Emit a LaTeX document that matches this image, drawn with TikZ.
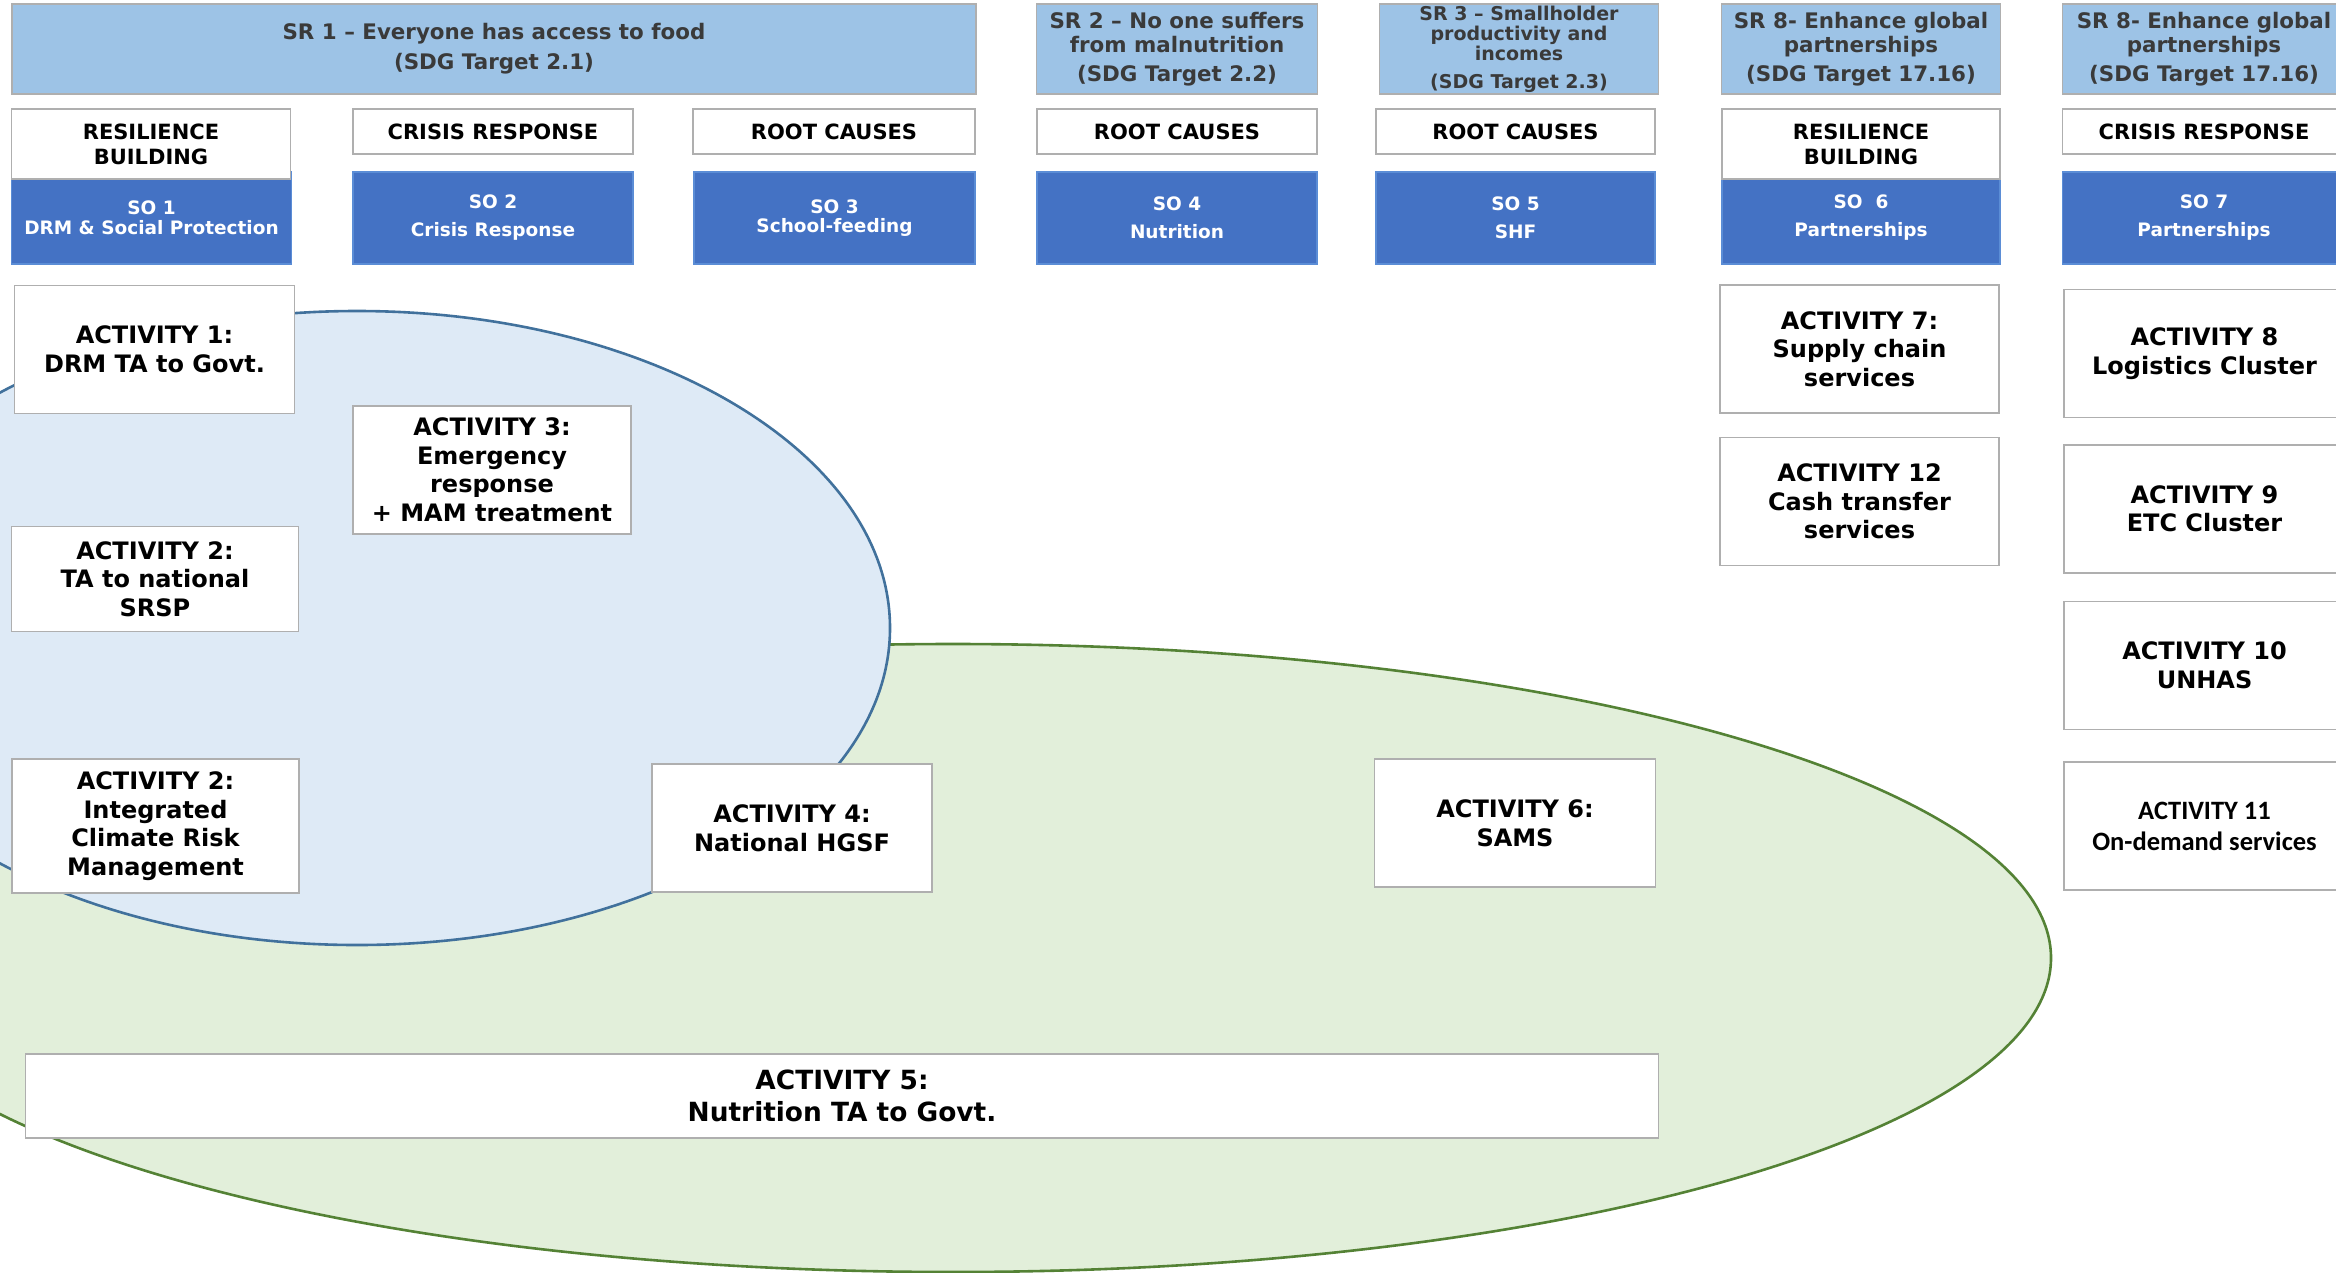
\documentclass[tikz,border=0pt]{standalone}
\usepackage{fontspec}
\setmainfont{DejaVu Sans}
\newfontfamily\carlito{Carlito}
\definecolor{srfill}{HTML}{9DC3E6}
\definecolor{srtext}{HTML}{3A3A3A}
\definecolor{sofill}{HTML}{4472C4}
\definecolor{soline}{HTML}{5B8DD6}
\definecolor{boxline}{HTML}{AFAFAF}
\definecolor{bluefill}{HTML}{DEEAF6}
\definecolor{blueline}{HTML}{41719C}
\definecolor{greenfill}{HTML}{E2EFDA}
\definecolor{greenline}{HTML}{548235}

\begin{document}
\begin{tikzpicture}
  [x=1pt,y=-1pt,
   every node/.style={draw=boxline,line width=1.6pt,inner sep=0pt,align=center,minimum width=280},
   srbox/.style={fill=srfill,text=srtext,minimum height=90,font=\bfseries\fontsize{21.4}{24}\selectfont},
   hdbox/.style={fill=white,minimum height=45,font=\bfseries\fontsize{21}{25}\selectfont},
   hdtall/.style={hdbox,minimum height=70},
   sobox/.style={fill=sofill,draw=soline,text=white,minimum height=92,font=\bfseries\fontsize{18.5}{19.5}\selectfont},
   actbox/.style={fill=white,minimum height=128,font=\bfseries\fontsize{24}{28.5}\selectfont}]
  \useasboundingbox (0,0) rectangle (2336,1272);
  \clip (0,0) rectangle (2336,1272);

  % the two big groups
  \draw[fill=greenfill,draw=greenline,line width=2.6pt] (953,958) ellipse [x radius=1098, y radius=314];
  \draw[fill=bluefill,draw=blueline,line width=2.6pt] (357,628) ellipse [x radius=533, y radius=317];

  % strategic results
  \node[srbox,minimum width=964] (sr1) at (494,49)  {SR 1 – Everyone has access to food\\[6pt](SDG Target 2.1)};
  \node[srbox,minimum width=281] (sr2) at (1177,49) {SR 2 – No one suffers\\from malnutrition\\[5.5pt](SDG Target 2.2)};
  \node[srbox,minimum width=279,font=\bfseries\fontsize{19}{20}\selectfont] (sr3) at (1519,49)
    {SR 3 – Smallholder\\productivity and\\incomes\\[8pt](SDG Target 2.3)};
  \node[srbox,minimum width=279] (sr8a) at (1861,49) {SR 8- Enhance global\\partnerships\\[5.5pt](SDG Target 17.16)};
  \node[srbox,minimum width=283] (sr8b) at (2204,49) {SR 8- Enhance global\\partnerships\\[5.5pt](SDG Target 17.16)};

  % strategic outcomes
  \node[sobox] (so1) at (151.5,218) {SO 1\\DRM \& Social Protection};
  \node[sobox] (so2) at (493,218)   {SO 2\\[8.5pt]Crisis Response};
  \node[sobox,minimum width=281] (so3) at (834.5,218) {SO 3\\School-feeding};
  \node[sobox] (so4) at (1177,218)  {SO 4\\[8.5pt]Nutrition};
  \node[sobox,minimum width=279] (so5) at (1515.5,218) {SO 5\\[8.5pt]SHF};
  \node[sobox,minimum width=278] (so6) at (1861,218) {SO~~6\\[8.5pt]Partnerships};
  \node[sobox,minimum width=283] (so7) at (2204,218) {SO 7\\[8.5pt]Partnerships};

  % focus areas
  \node[hdtall,minimum width=279] (fa1) at (151,144) {RESILIENCE\\BUILDING};
  \node[hdbox] (fa2) at (493,131.5) {CRISIS RESPONSE};
  \node[hdbox,minimum width=282] (fa3) at (834,131.5) {ROOT CAUSES};
  \node[hdbox] (fa4) at (1177,131.5) {ROOT CAUSES};
  \node[hdbox,minimum width=279] (fa5) at (1515.5,131.5) {ROOT CAUSES};
  \node[hdtall,minimum width=278] (fa6) at (1861,144) {RESILIENCE\\BUILDING};
  \node[hdbox,minimum width=283] (fa7) at (2204,131.5) {CRISIS RESPONSE};

  % activities
  \node[actbox] (act1) at (154.5,349.5) {ACTIVITY 1:\\DRM TA to Govt.};
  \node[actbox,minimum width=278] (act3) at (492,470) {ACTIVITY 3:\\Emergency\\response\\+ MAM treatment};
  \node[actbox,minimum width=287,minimum height=105] (act2a) at (155,579) {ACTIVITY 2:\\TA to national\\SRSP};
  \node[actbox,minimum width=287,minimum height=134] (act2b) at (155.5,826) {ACTIVITY 2:\\Integrated\\Climate Risk\\Management};
  \node[actbox] (act4) at (792,828) {ACTIVITY 4:\\National HGSF};
  \node[actbox,minimum width=281] (act6) at (1515,823) {ACTIVITY 6:\\SAMS};
  \node[actbox,minimum width=1633,minimum height=84,font=\bfseries\fontsize{26.4}{31.7}\selectfont] (act5) at (842,1096)
    {ACTIVITY 5:\\Nutrition TA to Govt.};
  \node[actbox,minimum width=279] (act7) at (1859.5,349) {ACTIVITY 7:\\Supply chain\\services};
  \node[actbox,minimum width=279] (act12) at (1859.5,501.5) {ACTIVITY 12\\Cash transfer\\services};
  \node[actbox,minimum width=281] (act8) at (2204.5,353.5) {ACTIVITY 8\\Logistics Cluster};
  \node[actbox,minimum width=281] (act9) at (2204.5,509) {ACTIVITY 9\\ETC Cluster};
  \node[actbox,minimum width=281] (act10) at (2204.5,665.5) {ACTIVITY 10\\UNHAS};
  \node[actbox,minimum width=281,font=\carlito\bfseries\fontsize{26.5}{31}\selectfont] (act11) at (2204.5,826)
    {ACTIVITY 11\\On-demand services};
\end{tikzpicture}
\end{document}
